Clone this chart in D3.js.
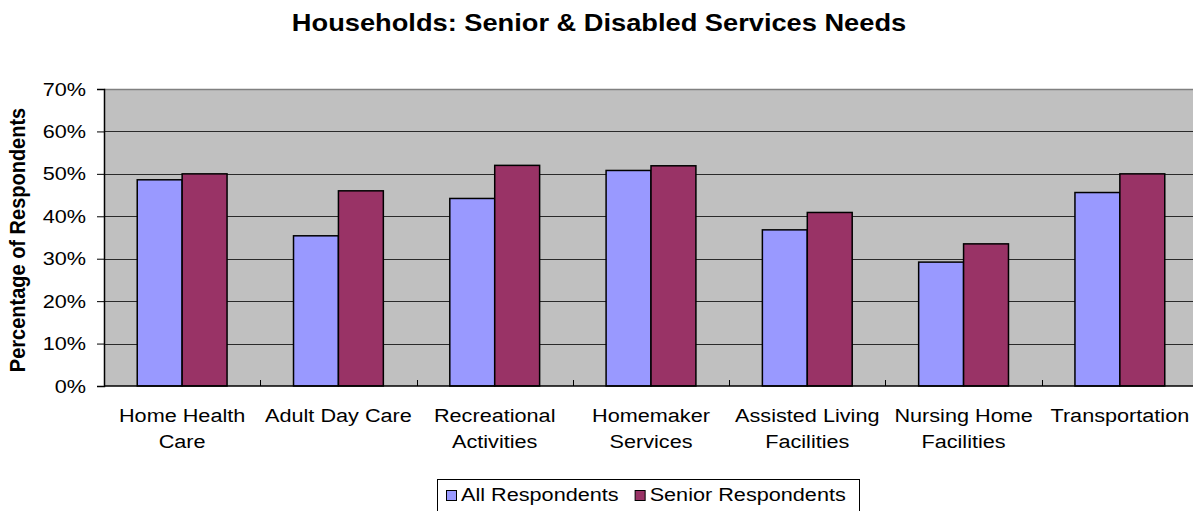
<!DOCTYPE html>
<html>
<head>
<meta charset="utf-8">
<script src="https://cdn.jsdelivr.net/npm/d3@7"></script>
<style>
  html, body { margin: 0; padding: 0; background: #fff; }
  svg { display: block; font-family: Arial, "Liberation Sans", sans-serif; }
</style>
</head>
<body>
<svg id="chart" width="1193" height="511"></svg>
<script>
// Survey results: share of households citing each senior / disabled service need
const categories = [
  ["Home Health", "Care"],
  ["Adult Day Care"],
  ["Recreational", "Activities"],
  ["Homemaker", "Services"],
  ["Assisted Living", "Facilities"],
  ["Nursing Home", "Facilities"],
  ["Transportation"]
];
const seriesNames = ["All Respondents", "Senior Respondents"];
const allRespondents    = [0.486, 0.354, 0.442, 0.508, 0.368, 0.292, 0.456];
const seniorRespondents = [0.500, 0.460, 0.520, 0.519, 0.409, 0.335, 0.500];
const yTicks = [0, 0.1, 0.2, 0.3, 0.4, 0.5, 0.6, 0.7];

const colors = { "All Respondents": "#9999FF", "Senior Respondents": "#993366" };

// Text is drawn slightly wide, as in the original spreadsheet export
const stretch = 1.14;

const svg = d3.select("#chart");
const plot = { left: 104, right: 1198, top: 89, bottom: 386 };

const keys = categories.map(c => c.join(" "));
const rows = keys.map((k, i) => ({
  key: k,
  lines: categories[i],
  values: [
    { series: seriesNames[0], value: allRespondents[i] },
    { series: seriesNames[1], value: seniorRespondents[i] }
  ]
}));

const x = d3.scaleBand().domain(keys).range([plot.left, plot.right]).padding(0);
const xSub = d3.scaleBand().domain(seriesNames).range([0, x.bandwidth()])
  .paddingInner(0).paddingOuter(0.74);
const y = d3.scaleLinear().domain([0, 0.7]).range([plot.bottom, plot.top]);

// Title
svg.append("text")
  .attr("transform", `translate(599,31) scale(${stretch},1)`)
  .attr("text-anchor", "middle")
  .attr("font-weight", "bold")
  .attr("font-size", 23.9)
  .text("Households: Senior & Disabled Services Needs");

// Plot background
svg.append("rect")
  .attr("x", plot.left).attr("y", plot.top)
  .attr("width", plot.right - plot.left).attr("height", plot.bottom - plot.top)
  .attr("fill", "#C0C0C0");

// Horizontal gridlines
svg.append("g")
  .selectAll("line")
  .data(yTicks.filter(t => t > 0 && t < 0.7))
  .join("line")
  .attr("x1", plot.left).attr("x2", plot.right)
  .attr("y1", d => Math.round(y(d)) + 0.5).attr("y2", d => Math.round(y(d)) + 0.5)
  .attr("stroke", "#2a2a2a").attr("stroke-width", 1);

// Top border of plot area
svg.append("line")
  .attr("x1", plot.left).attr("x2", plot.right)
  .attr("y1", plot.top + 0.5).attr("y2", plot.top + 0.5)
  .attr("stroke", "#808080").attr("stroke-width", 1.5);

// Bars
const groups = svg.append("g")
  .selectAll("g")
  .data(rows)
  .join("g")
  .attr("transform", d => `translate(${x(d.key)},0)`);

groups.selectAll("rect")
  .data(d => d.values)
  .join("rect")
  .attr("x", d => xSub(d.series))
  .attr("y", d => y(d.value))
  .attr("width", xSub.bandwidth())
  .attr("height", d => y(0) - y(d.value))
  .attr("fill", d => colors[d.series])
  .attr("stroke", "#000")
  .attr("stroke-width", 1.5);

// Y axis
const yAxis = d3.axisLeft(y)
  .tickValues(yTicks)
  .tickFormat(d3.format(".0%"))
  .tickSize(7)
  .tickPadding(11);

const yg = svg.append("g")
  .attr("transform", `translate(${plot.left},0)`)
  .call(yAxis);
yg.select(".domain").attr("stroke", "#000").attr("stroke-width", 1.5);
yg.selectAll(".tick line").attr("stroke", "#000");
yg.selectAll(".tick text")
  .attr("x", 0)
  .attr("transform", `translate(-18,0) scale(${stretch},1)`)
  .attr("font-family", "Arial, 'Liberation Sans', sans-serif")
  .attr("font-size", 19)
  .attr("fill", "#000");

// X axis: baseline with small inside ticks at category boundaries
const xg = svg.append("g");
xg.append("line")
  .attr("x1", plot.left).attr("x2", plot.right)
  .attr("y1", plot.bottom).attr("y2", plot.bottom)
  .attr("stroke", "#000").attr("stroke-width", 1.5);
xg.selectAll("line.cat-tick")
  .data(keys.slice(1))
  .join("line")
  .attr("class", "cat-tick")
  .attr("x1", d => Math.round(x(d)) + 0.5).attr("x2", d => Math.round(x(d)) + 0.5)
  .attr("y1", plot.bottom).attr("y2", plot.bottom - 6)
  .attr("stroke", "#000");

// Category labels
const labels = xg.selectAll("text.cat")
  .data(rows)
  .join("text")
  .attr("class", "cat")
  .attr("text-anchor", "middle")
  .attr("font-size", 19)
  .attr("fill", "#000")
  .attr("transform", d => `translate(${x(d.key) + x.bandwidth() / 2},422) scale(${stretch},1)`);
labels.selectAll("tspan")
  .data(d => d.lines)
  .join("tspan")
  .attr("x", 0)
  .attr("y", (d, i) => i * 26)
  .text(d => d);

// Y axis title
svg.append("text")
  .attr("transform", `translate(25,240) scale(${stretch},1) rotate(-90)`)
  .attr("text-anchor", "middle")
  .attr("font-weight", "bold")
  .attr("font-size", 20)
  .text("Percentage of Respondents");

// Legend
const legend = svg.append("g");
const legendBox = { x: 437, y: 479, w: 422, h: 40 };
legend.append("rect")
  .attr("x", legendBox.x + 0.5).attr("y", legendBox.y + 0.5)
  .attr("width", legendBox.w).attr("height", legendBox.h)
  .attr("fill", "#fff").attr("stroke", "#000");

let cursor = legendBox.x + 9;
seriesNames.forEach(name => {
  legend.append("rect")
    .attr("x", cursor + 0.5).attr("y", 490.5)
    .attr("width", 10).attr("height", 10)
    .attr("fill", colors[name]).attr("stroke", "#000");
  const t = legend.append("text")
    .attr("transform", `translate(${cursor + 15},501) scale(${stretch},1)`)
    .attr("font-size", 19)
    .attr("fill", "#000")
    .text(name);
  cursor += 15 + t.node().getComputedTextLength() * stretch + 16;
});
</script>
</body>
</html>
